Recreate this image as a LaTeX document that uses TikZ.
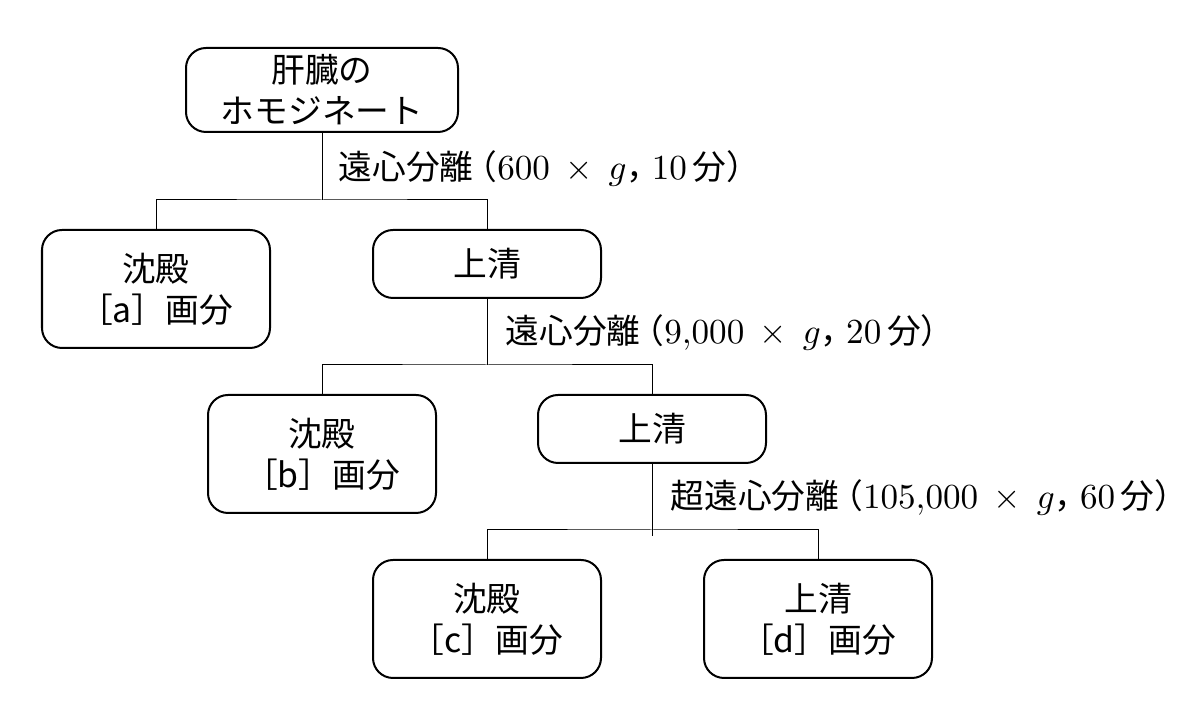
\documentclass[tikz,border=0pt]{standalone}
\usepackage{fontspec}
\newfontfamily\jp{Noto Sans CJK JP}
\newcommand{\lpar}{\kern-0.3em（}
\newcommand{\jcomma}{，\kern-0.25em}
\tikzset{
  frac/.style={draw, line width=0.02cm, rounded corners=0.2cm, align=center,
    minimum width=2.28cm, font=\jp\fontsize{9.6}{11.6}\selectfont, inner sep=0pt},
  conn/.style={line width=0.01cm},
  step label/.style={anchor=west, inner sep=0pt, font=\jp\fontsize{9.6}{11.6}\selectfont}
}
\begin{document}
\begin{tikzpicture}
            \useasboundingbox (0,0) rectangle (12.000000,7.280000);

            % Homogenate
            \node [frac, minimum width=2.72cm, minimum height=0.84cm] (homo) at (3.220000,6.380000) {肝臓の\\ホモジネート};%

            % First centrifugation
            \node [frac, minimum height=1.18cm] (sedA) at (1.560000,4.390000) {沈殿\\［a］画分};%
            \node [frac, minimum height=0.68cm] (supA) at (4.870000,4.640000) {上清};%
            \coordinate (j1) at (3.220000,5.280000);%
            \draw [conn] (homo.south) -- (j1);%
            \draw [conn] (sedA.north) |- (j1) -| (supA.north);%
            \node [step label] (cenA) at (3.380000,5.600000) {遠心分離\lpar$600\:\times\:g$\jcomma$10$\,分）};%

            % Second centrifugation
            \node [frac, minimum height=1.18cm] (sedB) at (3.220000,2.740000) {沈殿\\［b］画分};%
            \node [frac, minimum height=0.68cm] (supB) at (6.520000,2.990000) {上清};%
            \coordinate (j2) at (4.870000,3.630000);%
            \draw [conn] (supA.south) -- (j2);%
            \draw [conn] (sedB.north) |- (j2) -| (supB.north);%
            \node [step label] (cenB) at (5.050000,3.960000) {遠心分離\lpar$9{,}000\:\times\:g$\jcomma$20$\,分）};%

            % Ultracentrifugation
            \node [frac, minimum height=1.18cm] (sedC) at (4.870000,1.090000) {沈殿\\［c］画分};%
            \node [frac, minimum height=1.18cm] (supD) at (8.180000,1.090000) {上清\\［d］画分};%
            \coordinate (j3) at (6.520000,1.980000);%
            \draw [conn] (supB.south) -- ++(0,-0.720000);%
            \draw [conn] (sedC.north) |- (j3) -| (supD.north);%
            \node [step label] (cenC) at (6.700000,2.310000) {超遠心分離\lpar$105{,}000\:\times\:g$\jcomma$60$\,分）};%
\end{tikzpicture}
\end{document}
